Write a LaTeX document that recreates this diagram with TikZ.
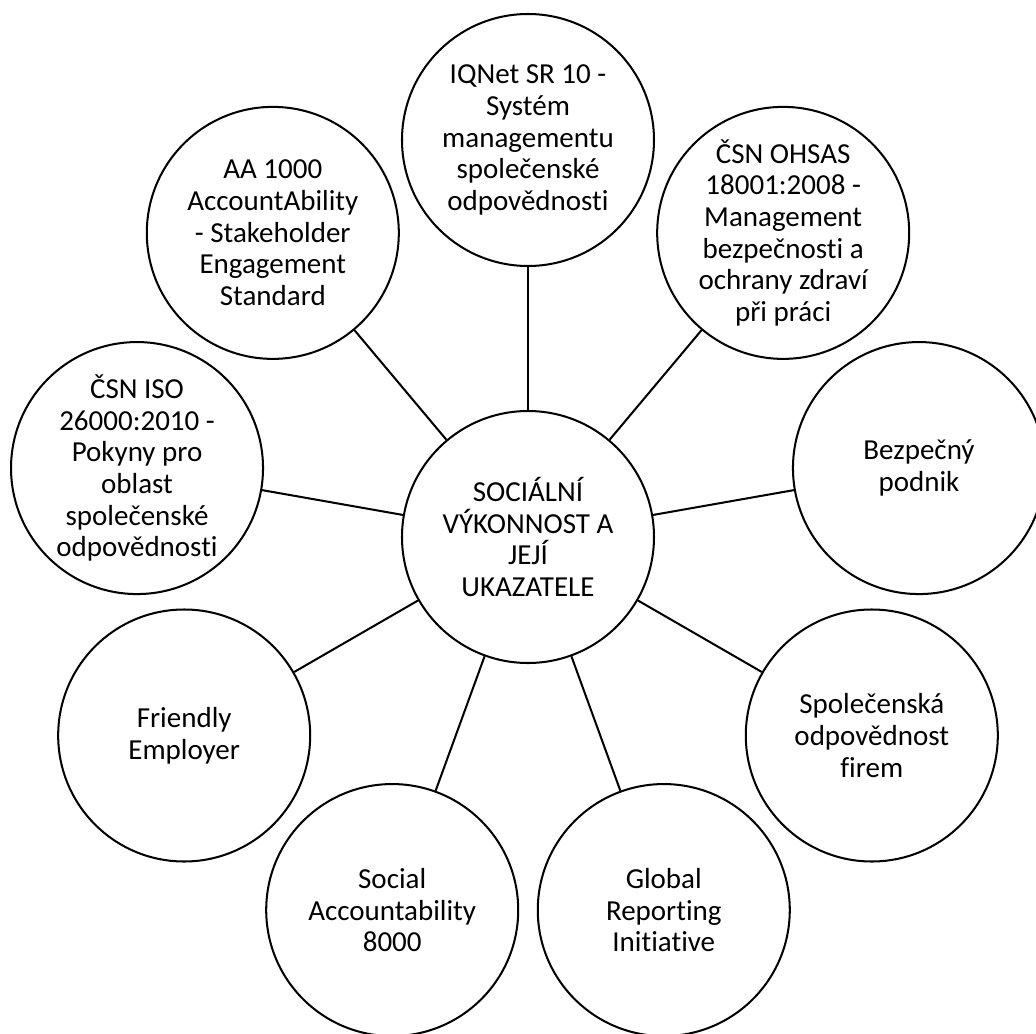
\documentclass[tikz,border=0pt]{standalone}
\usepackage{amsmath,amssymb}
\usepackage{fontspec}
\setmainfont{Carlito}[Ligatures=NoCommon]
\usepackage{tikz}
\usetikzlibrary{calc}

\begin{document}
\begin{tikzpicture}[
		bubble/.style={draw,circle,line width=1.15pt,minimum size=5.04cm,inner sep=-1cm,align=center,
			font=\fontsize{16.5pt}{18pt}\selectfont},
		spoke/.style={line width=1.15pt}]
				\useasboundingbox (-10.56,-9.92) rectangle (10.16,10.74);
				\clip (-10.56,-9.92) rectangle (10.16,10.74);
				\node[bubble] (mid) at (0,0) {SOCIÁLNÍ\\VÝKONNOST A\\JEJÍ\\UKAZATELE};
				\node[bubble] (iqnet) at (90:7.94) {IQNet SR 10 -\\Systém\\managementu\\společenské\\odpovědnosti};
				\node[bubble] (aa) at (130:7.94) {AA 1000\\AccountAbility\\- Stakeholder\\Engagement\\Standard};
				\node[bubble] (iso) at (170:7.94) {ČSN ISO\\26000:2010 -\\Pokyny pro\\oblast\\společenské\\odpovědnosti};
				\node[bubble] (friendly) at (210:7.94) {Friendly\\Employer};
				\node[bubble] (sa) at (250:7.94) {Social\\Accountability\\8000};
				\node[bubble] (gri) at (290:7.94) {Global\\Reporting\\Initiative};
				\node[bubble] (csr) at (330:7.94) {Společenská\\odpovědnost\\firem};
				\node[bubble] (bezp) at (10:7.94) {Bezpečný\\podnik};
				\node[bubble] (ohsas) at (50:7.94) {ČSN OHSAS\\18001:2008 -\\Management\\bezpečnosti a\\ochrany zdraví\\při práci};
				\draw[spoke] (mid) -- (iqnet);
				\draw[spoke] (mid) -- (aa);
				\draw[spoke] (mid) -- (iso);
				\draw[spoke] (mid) -- (friendly);
				\draw[spoke] (mid) -- (sa);
				\draw[spoke] (mid) -- (gri);
				\draw[spoke] (mid) -- (csr);
				\draw[spoke] (mid) -- (bezp);
				\draw[spoke] (mid) -- (ohsas);
			\end{tikzpicture}
\end{document}
